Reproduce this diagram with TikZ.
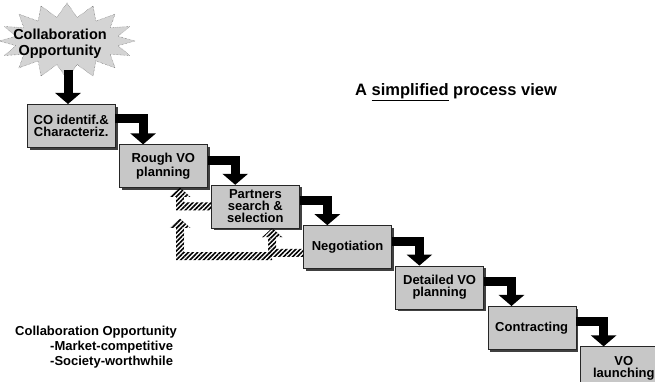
\documentclass[tikz,border=0pt]{standalone}
\usepackage{fontspec}
\setmainfont{Liberation Sans}
\usetikzlibrary{arrows.meta,calc,shadows,patterns.meta}
\colorlet{boxgray}{black!22}
\colorlet{stargray}{black!17}
\tikzset{
    stepsty/.style={draw=black!85,fill=boxgray,rectangle,minimum width=88pt,minimum height=43pt,inner sep=1pt,align=center,anchor=north west,font=\fontsize{13}{12}\selectfont\bfseries,drop shadow={shadow xshift=2.5pt,shadow yshift=-2.5pt,fill=black!75,opacity=1}},
    flowsty/.style={line width=9pt,-{Triangle[width=25pt,length=11pt]}},
    backsty/.style={pattern={Lines[angle=45,distance=3.2pt,line width=1.6pt]}},
    headsty/.style={densely dotted,thin},
    starsty/.style={draw=black!70,densely dotted,fill=stargray},
    textsty/.style={font=\fontsize{13}{15}\selectfont\bfseries,align=left,inner sep=0pt},
}
% hatched feedback arrow: #1 start (right end), #2 tip (above)
\newcommand{\backarrow}[2]{%
  \path[backsty] let \p1=(#1), \p2=(#2) in
    (\x1,\y1+4pt) -- (\x2+4pt,\y1+4pt) -- (\x2+4pt,\y2-9pt) -- (\x2+10pt,\y2-9pt)
    -- (\x2,\y2) -- (\x2-10pt,\y2-9pt) -- (\x2-4pt,\y2-9pt) -- (\x2-4pt,\y1-4pt)
    -- (\x1,\y1-4pt) -- cycle;
  \draw[headsty] let \p2=(#2) in (\x2+10pt,\y2-9pt) -- (\x2,\y2) -- (\x2-10pt,\y2-9pt);}

\begin{document}
\begin{tikzpicture}[x=1pt,y=1pt]
  \useasboundingbox (0,0) rectangle (655,382);

  % the opportunity star
  \draw[starsty] plot[variable=\k,samples at={0,...,31}] ({67+(68-16*mod(\k,2))*cos(\k*11.25)},{341+(38-14*mod(\k,2))*sin(\k*11.25)}) -- cycle;
  \node[font=\fontsize{14.5}{16}\selectfont\bfseries,align=center] (opp) at (60,338) {Collaboration\\Opportunity};
  \coordinate (stem) at (68,312);

  % process steps
  \node[stepsty] (ident) at (27,278) {CO identif.\&\\Characteriz.};
  \node[stepsty] (rough) at ([shift={(3.7pt,3pt)}]ident.south east) {Rough VO\\planning};
  \node[stepsty] (search) at ([shift={(3.7pt,3pt)}]rough.south east) {Partners\\search \&\\selection};
  \node[stepsty] (negot) at ([shift={(3.7pt,3pt)}]search.south east) {Negotiation};
  \node[stepsty] (detail) at ([shift={(3.7pt,3pt)}]negot.south east) {Detailed VO\\planning};
  \node[stepsty] (contr) at ([shift={(3.7pt,3pt)}]detail.south east) {Contracting};
  \node[stepsty] (launch) at ([shift={(3.7pt,3pt)}]contr.south east) {VO\\launching};

  % forward flow
  \draw[flowsty] (stem) -- (stem |- ident.north);
  \draw[flowsty] ([yshift=-15pt]ident.north east) -| ([xshift=24pt]rough.north west);
  \draw[flowsty] ([yshift=-16pt]rough.north east) -| ([xshift=24pt]search.north west);
  \draw[flowsty] ([yshift=-16pt]search.north east) -| ([xshift=24pt]negot.north west);
  \draw[flowsty] ([yshift=-16pt]negot.north east) -| ([xshift=24pt]detail.north west);
  \draw[flowsty] ([yshift=-16pt]detail.north east) -| ([xshift=24pt]contr.north west);
  \draw[flowsty] ([yshift=-16pt]contr.north east) -| ([xshift=24pt]launch.north west);

  % feedback
  \coordinate (roughin) at ([xshift=61pt]rough.south west);
  \coordinate (searchin) at ([xshift=61pt]search.south west);
  \backarrow{search.west}{roughin}
  \backarrow{$(negot.west)+(0,-6)$}{searchin}
  \backarrow{$(searchin)+(0,-28)$}{$(roughin)+(0,-31)$}

  % labels
  \node[font=\fontsize{16.5}{18}\selectfont\bfseries] (title) at (456,290) {A \underline{simplified} process view};
  \node[textsty,anchor=north west] (note) at (15,56) {Collaboration Opportunity\\\hspace*{35pt}-Market-competitive\\\hspace*{35pt}-Society-worthwhile};
\end{tikzpicture}
\end{document}
